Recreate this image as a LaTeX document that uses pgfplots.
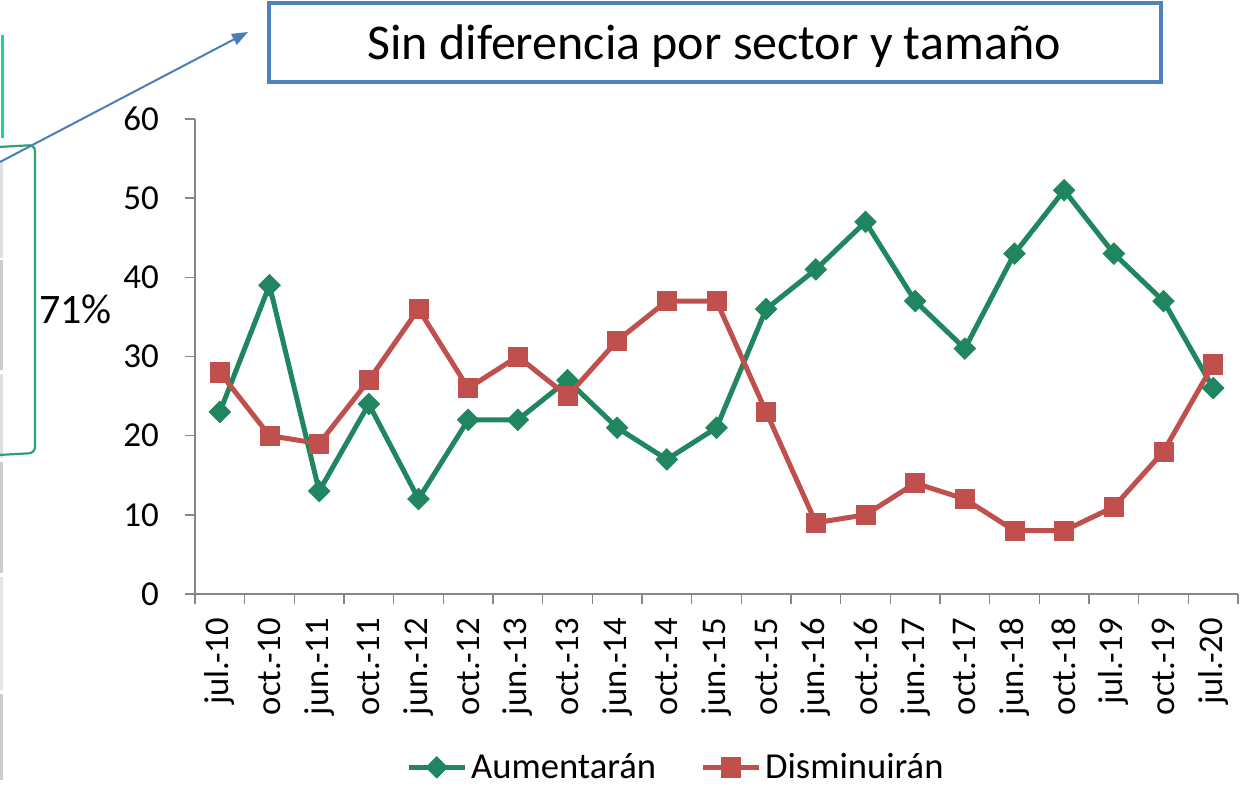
\documentclass[border=0pt]{standalone}
\usepackage{pgfplots}
\pgfplotsset{compat=1.18}
\usetikzlibrary{arrows.meta}
\usepackage{fontspec}
\setmainfont{Carlito}
\definecolor{cgreen}{RGB}{31,134,95}
\definecolor{cred}{RGB}{192,80,77}
\definecolor{cblue}{RGB}{79,129,189}
\definecolor{carrow}{RGB}{74,126,187}
\definecolor{cbracket}{RGB}{50,160,110}
\definecolor{cteal}{RGB}{20,215,160}
\definecolor{caxis}{RGB}{134,134,134}
\begin{document}
\begin{tikzpicture}
\useasboundingbox (0,0) rectangle (620pt,394pt);
\begin{scope}[x=0.5pt,y=-0.5pt,yshift=394pt]
  \draw[cteal,line width=1.5pt] (2,35) -- (2,138);
  \draw[gray!25,line width=1.5pt] (1,160) -- (1,258);
  \draw[gray!40,line width=1.5pt] (1,260) -- (1,370);
  \draw[gray!25,line width=1.5pt] (1,374) -- (1,458);
  \draw[gray!40,line width=1.5pt] (1,462) -- (1,573);
  \draw[gray!20,line width=1.5pt] (1,577) -- (1,690);
  \draw[gray!40,line width=1.5pt] (1,694) -- (1,780);
  \draw[cbracket,line width=1.1pt,rounded corners=3pt] (-2,147) -- (35,145) -- (35,453) -- (-2,455);
  \draw[carrow,line width=1pt,-{Triangle[length=8pt,width=6pt]}] (0,162) -- (248,32);
  \node[anchor=base west,inner sep=0pt] at (39,323) {\fontsize{21}{24}\selectfont 71\%};
  \draw[cblue,line width=1.75pt] (269,3) rectangle (1161,82);
  \node[anchor=base,inner sep=0pt] at (714,60) {\fontsize{25}{30}\selectfont Sin diferencia por sector y tamaño};
\end{scope}
\begin{axis}[
  at={(97.5pt,97pt)}, anchor=south west,
  scale only axis, width=521.5pt, height=237.5pt,
  xmin=-0.5, xmax=20.5, ymin=0, ymax=60,
  axis x line*=bottom, axis y line*=left,
  axis line style={caxis, line width=0.8pt},
  ytick={0,10,...,60},
  xtick={0,...,20},
  xticklabels={jul.-10,oct.-10,jun.-11,oct.-11,jun.-12,oct.-12,jun.-13,oct.-13,jun.-14,oct.-14,jun.-15,oct.-15,jun.-16,oct.-16,jun.-17,oct.-17,jun.-18,oct.-18,jul.-19,oct.-19,jul.-20},
  minor xtick={-0.5,0.5,...,20.5},
  major x tick style={draw=none},
  tick align=outside,
  major tick length=5pt, minor tick length=5pt,
  every tick/.style={caxis, line width=0.8pt},
  /pgf/number format/assume math mode=true,
  xticklabel shift=3.5pt,
  xticklabel style={rotate=90, anchor=east, font=\fontsize{17.3}{18}\selectfont},
  yticklabel style={xshift=-9.5pt, font=\fontsize{17.5}{18}\selectfont},
  clip=false,
  legend style={at={(0.462,-0.365)}, anchor=center, draw=none, fill=none,
    font=\fontsize{18.3}{20}\selectfont, legend columns=2,
    /tikz/every even column/.append style={column sep=20pt}},
  legend image code/.code={\draw[mark repeat=2,mark phase=2] plot coordinates {(0pt,0pt) (14pt,0pt) (28pt,0pt)};},
]
\addplot[cgreen, line width=2.5pt, mark=square*, mark size=3.8pt, mark options={solid, rotate=45, line width=0.4pt}]
coordinates {(0,23) (1,39) (2,13) (3,24) (4,12) (5,22) (6,22) (7,27) (8,21) (9,17) (10,21) (11,36) (12,41) (13,47) (14,37) (15,31) (16,43) (17,51) (18,43) (19,37) (20,26)};
\addlegendentry{Aumentarán}
\addplot[cred, line width=2.5pt, mark=square*, mark size=4.8pt, mark options={solid, line width=0.4pt}]
coordinates {(0,28) (1,20) (2,19) (3,27) (4,36) (5,26) (6,30) (7,25) (8,32) (9,37) (10,37) (11,23) (12,9) (13,10) (14,14) (15,12) (16,8) (17,8) (18,11) (19,18) (20,29)};
\addlegendentry{Disminuirán}
\end{axis}
\end{tikzpicture}
\end{document}
